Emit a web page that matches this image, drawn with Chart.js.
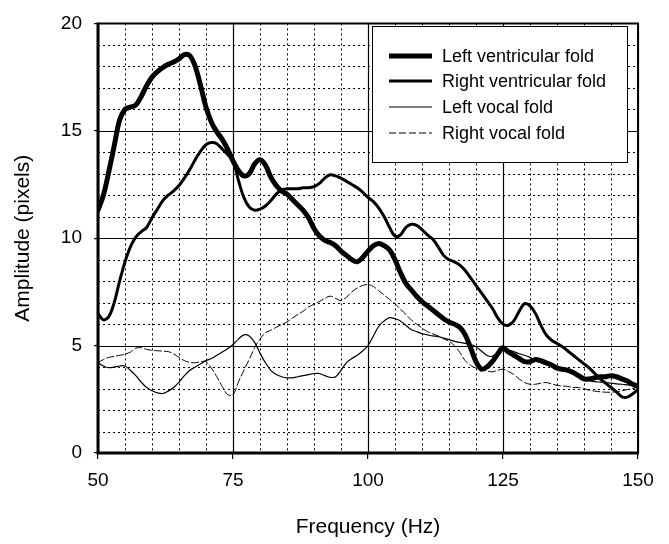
<!DOCTYPE html>
<html><head><meta charset="utf-8">
<script src="https://cdn.jsdelivr.net/npm/chart.js@4.4.0/dist/chart.umd.min.js"></script>
<style>html,body{margin:0;padding:0;background:#fff;overflow:hidden;}</style>
</head><body>
<canvas id="c" width="669" height="544"></canvas>
<script>
const frequencies = [50,51,52,53,54,55,56,57,58,59,60,61,62,63,64,65,66,67,68,69,70,71,72,73,74,75,76,77,78,79,80,81,82,83,84,85,86,87,88,89,90,91,92,93,94,95,96,97,98,99,100,101,102,103,104,105,106,107,108,109,110,111,112,113,114,115,116,117,118,119,120,121,122,123,124,125,126,127,128,129,130,131,132,133,134,135,136,137,138,139,140,141,142,143,144,145,146,147,148,149,150];

const leftVentricular = [11.3,12.0,13.1,14.3,15.5,16.0,16.1,16.2,16.6,17.1,17.5,17.75,17.95,18.1,18.2,18.35,18.55,18.5,18.0,17.1,16.1,15.4,14.95,14.6,14.15,13.6,13.15,12.9,13.0,13.45,13.65,13.4,12.85,12.45,12.2,12.05,11.8,11.55,11.3,10.95,10.45,10.1,9.9,9.8,9.65,9.4,9.2,9.0,8.9,9.1,9.4,9.65,9.75,9.65,9.45,9.0,8.4,7.9,7.6,7.3,7.05,6.85,6.65,6.45,6.25,6.1,6.0,5.85,5.5,4.9,4.25,3.9,4.0,4.25,4.6,4.9,4.7,4.55,4.4,4.25,4.25,4.35,4.3,4.2,4.1,3.95,3.9,3.85,3.75,3.6,3.45,3.45,3.5,3.55,3.55,3.6,3.55,3.45,3.35,3.2,3.1];

const rightVentricular = [6.5,6.2,6.35,7.0,8.0,8.9,9.6,10.05,10.3,10.5,10.95,11.35,11.75,12.0,12.2,12.45,12.8,13.2,13.65,14.05,14.35,14.45,14.4,14.15,13.9,13.6,12.7,11.9,11.45,11.3,11.35,11.5,11.75,12.05,12.25,12.3,12.3,12.3,12.35,12.35,12.4,12.55,12.8,12.95,12.9,12.8,12.65,12.5,12.35,12.15,11.9,11.7,11.4,11.0,10.5,10.1,10.15,10.5,10.65,10.6,10.4,10.15,9.95,9.6,9.2,9.0,8.9,8.75,8.5,8.15,7.8,7.45,7.1,6.75,6.3,6.0,5.95,6.15,6.6,6.95,6.85,6.5,5.95,5.5,5.25,5.1,4.95,4.75,4.55,4.35,4.15,3.95,3.7,3.45,3.25,3.05,2.85,2.62,2.6,2.75,2.95];

const leftVocal = [4.2,4.05,3.97,4.0,4.05,4.05,3.85,3.6,3.3,3.05,2.9,2.8,2.77,2.88,3.05,3.3,3.6,3.85,4.0,4.15,4.3,4.4,4.55,4.7,4.85,5.05,5.3,5.5,5.45,5.15,4.65,4.2,3.85,3.65,3.55,3.5,3.5,3.55,3.6,3.65,3.7,3.7,3.6,3.52,3.55,3.85,4.2,4.4,4.55,4.75,5.0,5.45,5.9,6.15,6.3,6.25,6.15,5.95,5.75,5.65,5.55,5.5,5.45,5.42,5.35,5.28,5.2,5.15,5.1,5.05,4.95,4.75,4.55,4.5,4.7,4.85,4.8,4.72,4.62,4.55,4.45,4.32,4.2,4.1,4.05,3.98,3.88,3.78,3.67,3.55,3.45,3.37,3.32,3.3,3.28,3.25,3.22,3.2,3.17,3.14,3.12];

const rightVocal = [4.2,4.35,4.45,4.5,4.55,4.6,4.7,4.88,4.9,4.82,4.78,4.76,4.74,4.72,4.62,4.45,4.3,4.22,4.2,4.25,4.25,3.95,3.55,3.1,2.72,2.72,3.3,3.85,4.35,4.9,5.3,5.6,5.72,5.85,5.98,6.1,6.28,6.45,6.6,6.8,6.92,7.05,7.2,7.3,7.2,7.1,7.25,7.5,7.68,7.8,7.85,7.75,7.55,7.35,7.15,6.95,6.7,6.45,6.2,6.0,5.82,5.65,5.55,5.45,5.32,5.2,5.0,4.68,4.3,4.08,3.95,3.88,3.82,3.78,3.85,3.9,3.8,3.65,3.45,3.28,3.2,3.2,3.25,3.28,3.22,3.15,3.12,3.1,3.05,3.05,3.0,2.92,2.88,2.85,2.83,2.83,2.85,2.9,2.95,3.0,3.05];

const seriesNames = ['Left ventricular fold','Right ventricular fold','Left vocal fold','Right vocal fold'];
const xTickValues = [50,75,100,125,150];
const yTickValues = [0,5,10,15,20];

const FONT = '"Liberation Sans", Arial, Helvetica, sans-serif';

function pts(vals){ return frequencies.map((f,i)=>({x:f,y:vals[i]})); }

const styles = [
  {borderWidth:5, borderDash:[]},
  {borderWidth:3, borderDash:[]},
  {borderWidth:1.2, borderDash:[]},
  {borderWidth:1, borderDash:[7,3]}
];
const seriesData = [leftVentricular, rightVentricular, leftVocal, rightVocal];

const gridPlugin = {
  id:'gridFrame',
  beforeDatasetsDraw(chart){
    const {ctx, chartArea:a, scales:{x,y}} = chart;
    ctx.save();
    ctx.strokeStyle='#000';
    ctx.lineWidth=1;
    ctx.setLineDash([2,3]);
    for(let v=x.min+5; v<x.max; v+=5){
      if(xTickValues.includes(v)) continue;
      const px=Math.round(x.getPixelForValue(v))+0.5;
      ctx.beginPath(); ctx.moveTo(px,a.top); ctx.lineTo(px,a.bottom); ctx.stroke();
    }
    for(let v=y.min+1; v<y.max; v+=1){
      if(yTickValues.includes(v)) continue;
      const py=Math.round(y.getPixelForValue(v))+0.5;
      ctx.beginPath(); ctx.moveTo(a.left,py); ctx.lineTo(a.right,py); ctx.stroke();
    }
    ctx.setLineDash([]);
    ctx.lineWidth=1.2;
    xTickValues.forEach(v=>{
      const px=Math.round(x.getPixelForValue(v))+0.5;
      ctx.beginPath(); ctx.moveTo(px,a.top); ctx.lineTo(px,a.bottom); ctx.stroke();
    });
    yTickValues.forEach(v=>{
      const py=Math.round(y.getPixelForValue(v))+0.5;
      ctx.beginPath(); ctx.moveTo(a.left,py); ctx.lineTo(a.right,py); ctx.stroke();
    });
    ctx.restore();
  },
  afterDatasetsDraw(chart){
    const {ctx, chartArea:a} = chart;
    ctx.save();
    ctx.strokeStyle='#000';
    ctx.lineWidth=2;
    ctx.beginPath(); ctx.moveTo(a.left,a.top); ctx.lineTo(a.right,a.top); ctx.lineTo(a.right,a.bottom); ctx.stroke();
    ctx.lineWidth=3;
    ctx.beginPath(); ctx.moveTo(a.left,a.top-1); ctx.lineTo(a.left,a.bottom); ctx.lineTo(a.right+1,a.bottom); ctx.stroke();
    // legend
    const bx=372.5, by=26.5, bw=255, bh=136;
    ctx.fillStyle='#fff';
    ctx.fillRect(bx,by,bw,bh);
    ctx.lineWidth=1;
    ctx.strokeRect(bx,by,bw,bh);
    ctx.font='18px '+FONT;
    ctx.textBaseline='middle';
    ctx.fillStyle='#000';
    const rows=[56,81,107,133];
    chart.data.datasets.forEach((ds,i)=>{
      const yy=rows[i];
      ctx.lineWidth=ds.borderWidth;
      ctx.setLineDash(ds.borderDash||[]);
      ctx.beginPath(); ctx.moveTo(389,yy); ctx.lineTo(432,yy); ctx.stroke();
      ctx.setLineDash([]);
      ctx.fillText(ds.label,442,yy+1);
    });
    ctx.restore();
  }
};

new Chart(document.getElementById('c'),{
  type:'line',
  data:{
    datasets: seriesData.map((d,i)=>({
      label: seriesNames[i],
      data: pts(d),
      borderColor:'#000',
      borderWidth: styles[i].borderWidth,
      borderDash: styles[i].borderDash,
      pointRadius:0,
      tension:0.35,
      fill:false,
      borderCapStyle:'round',
      borderJoinStyle:'round'
    }))
  },
  options:{
    responsive:false,
    devicePixelRatio:1,
    animation:false,
    layout:{padding:{top:19,right:31,left:0,bottom:0}},
    plugins:{legend:{display:false},tooltip:{enabled:false}},
    scales:{
      x:{
        type:'linear', min:50, max:150,
        afterBuildTicks(s){ s.ticks = xTickValues.map(v=>({value:v})); },
        afterFit(s){ s.height=91; },
        grid:{display:true, drawOnChartArea:false, drawTicks:true, tickLength:6, color:'#000', lineWidth:1.2},
        border:{display:false},
        ticks:{color:'#000', font:{family:FONT,size:19}, padding:10, maxRotation:0},
        title:{display:true, text:'Frequency (Hz)', color:'#000', font:{family:FONT,size:21}, padding:{top:0,bottom:4}}
      },
      y:{
        type:'linear', min:0, max:20,
        afterBuildTicks(s){ s.ticks = yTickValues.map(v=>({value:v})); },
        afterFit(s){ s.width=98; },
        grid:{display:true, drawOnChartArea:false, drawTicks:true, tickLength:4, color:'#000', lineWidth:1.2},
        border:{display:false},
        ticks:{color:'#000', font:{family:FONT,size:19}, padding:12},
        title:{display:true, text:'Amplitude (pixels)', color:'#000', font:{family:FONT,size:21}, padding:{top:11,bottom:0}}
      }
    }
  },
  plugins:[gridPlugin]
});
</script>
</body></html>
